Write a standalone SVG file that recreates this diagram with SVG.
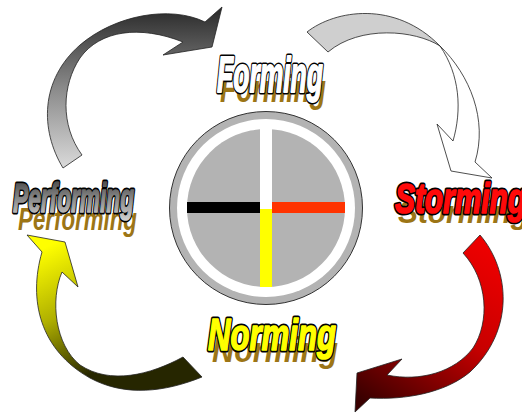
<svg xmlns="http://www.w3.org/2000/svg" width="522" height="414" viewBox="0 0 522 414">
<style>
.lbl{font-family:"Liberation Sans",Arial,sans-serif;font-weight:bold;font-style:italic;stroke-linejoin:round;}
.outl{fill:#000;stroke:#000;stroke-width:4;}
.shadow{fill:#9c7516;}
.arrow{stroke:#222;stroke-width:0.8;stroke-linejoin:miter;}
</style>
<defs>
<linearGradient id="gDark" gradientUnits="userSpaceOnUse" x1="0" y1="8" x2="0" y2="168">
<stop offset="0" stop-color="#2a2a2a"/><stop offset="0.5" stop-color="#8a8a8a"/><stop offset="1" stop-color="#dadada"/>
</linearGradient>
<linearGradient id="gRed" gradientUnits="userSpaceOnUse" x1="480" y1="240" x2="370" y2="405">
<stop offset="0" stop-color="#ee0000"/><stop offset="0.45" stop-color="#c80000"/><stop offset="1" stop-color="#3a0000"/>
</linearGradient>
<linearGradient id="gYel" gradientUnits="userSpaceOnUse" x1="0" y1="270" x2="60" y2="390">
<stop offset="0" stop-color="#ffff00"/><stop offset="0.5" stop-color="#b0b000"/><stop offset="1" stop-color="#262600"/>
</linearGradient>
<linearGradient id="gPerf" x1="0" y1="0" x2="0" y2="1">
<stop offset="0" stop-color="#3a3a3a"/><stop offset="1" stop-color="#d4d4d4"/>
</linearGradient>
</defs>

<g id="connectors">
<path id="arrow-performing-forming" class="arrow" fill="url(#gDark)" d="M63,168 C40,130 40,80 80,45 C115,15 170,5 205,22 L222,7 L212,47 L163,55 L183,42 C140,25 100,30 80,58 C62,85 60,125 82,155 Z"/>
<g id="arrow-forming-storming">
<path class="arrow" fill="#cfcfcf" d="M307,32 C335,10 395,0 440,46 C415,30 360,25 328,52 Z"/>
<path class="arrow" fill="#ffffff" d="M440,46 C470,75 488,120 475,162 L492,178 L451,171 L437,124 L453,141 C462,110 460,75 440,46 Z"/>
</g>
<path id="arrow-storming-norming" class="arrow" fill="url(#gRed)" d="M480,235 C510,270 515,330 470,372 C445,393 405,400 370,398 L355,412 L357,373 L402,359 L387,375 C420,382 455,372 473,348 C490,322 488,280 463,253 Z"/>
<path id="arrow-norming-performing" class="arrow" fill="url(#gYel)" d="M42,252 C28,300 40,350 90,378 C125,397 165,392 202,377 L183,357 C150,375 110,385 80,365 C55,345 50,300 62,272 L78,287 L65,242 L27,235 Z"/>
</g>

<g id="node-center">
<circle cx="266" cy="208" r="96.5" fill="#b3b3b3" stroke="#333" stroke-width="1"/>
<circle cx="266" cy="208" r="89" fill="#ffffff"/>
<circle cx="266" cy="208" r="79" fill="#b3b3b3"/>
<rect x="260" y="126" width="12" height="84" fill="#ffffff"/>
<rect x="187" y="202" width="73" height="11" fill="#000000"/>
<rect x="272" y="202" width="73" height="11" fill="#ff3300"/>
<rect x="260" y="209" width="12" height="78" fill="#ffff00"/>
</g>

<g id="node-forming">
<text class="lbl shadow" transform="translate(220,102) scale(1,1.0)" font-size="38" textLength="106" lengthAdjust="spacingAndGlyphs">Forming</text>
<text class="lbl outl" transform="translate(217,92) scale(1,1.3)" font-size="38" textLength="106" lengthAdjust="spacingAndGlyphs">Forming</text>
<text class="lbl" transform="translate(217,92) scale(1,1.3)" font-size="38" fill="#ffffff" stroke="#ffffff" stroke-width="1.4" textLength="106" lengthAdjust="spacingAndGlyphs">Forming</text>
</g>

<g id="node-storming">
<text class="lbl shadow" transform="translate(398,223) scale(1,0.95)" font-size="33" textLength="131" lengthAdjust="spacingAndGlyphs">Storming</text>
<text class="lbl outl" transform="translate(395,213) scale(1,1.27)" font-size="33" textLength="131" lengthAdjust="spacingAndGlyphs">Storming</text>
<text class="lbl" transform="translate(395,213) scale(1,1.27)" font-size="33" fill="#ff0a0a" stroke="#ff0a0a" stroke-width="1.3" textLength="131" lengthAdjust="spacingAndGlyphs">Storming</text>
</g>

<g id="node-performing">
<text class="lbl shadow" transform="translate(18,230) scale(1,1.0)" font-size="32" textLength="119" lengthAdjust="spacingAndGlyphs">Performing</text>
<text class="lbl outl" transform="translate(13,212) scale(1,1.27)" font-size="32" textLength="121" lengthAdjust="spacingAndGlyphs">Performing</text>
<text class="lbl" transform="translate(13,212) scale(1,1.27)" font-size="32" fill="url(#gPerf)" stroke="url(#gPerf)" stroke-width="1.3" textLength="121" lengthAdjust="spacingAndGlyphs">Performing</text>
</g>

<g id="node-norming">
<text class="lbl shadow" transform="translate(212,362) scale(1,1.0)" font-size="35" textLength="126" lengthAdjust="spacingAndGlyphs">Norming</text>
<text class="lbl outl" transform="translate(208,350) scale(1,1.28)" font-size="35" textLength="128" lengthAdjust="spacingAndGlyphs">Norming</text>
<text class="lbl" transform="translate(208,350) scale(1,1.28)" font-size="35" fill="#ffff00" stroke="#ffff00" stroke-width="1.3" textLength="128" lengthAdjust="spacingAndGlyphs">Norming</text>
</g>
</svg>
